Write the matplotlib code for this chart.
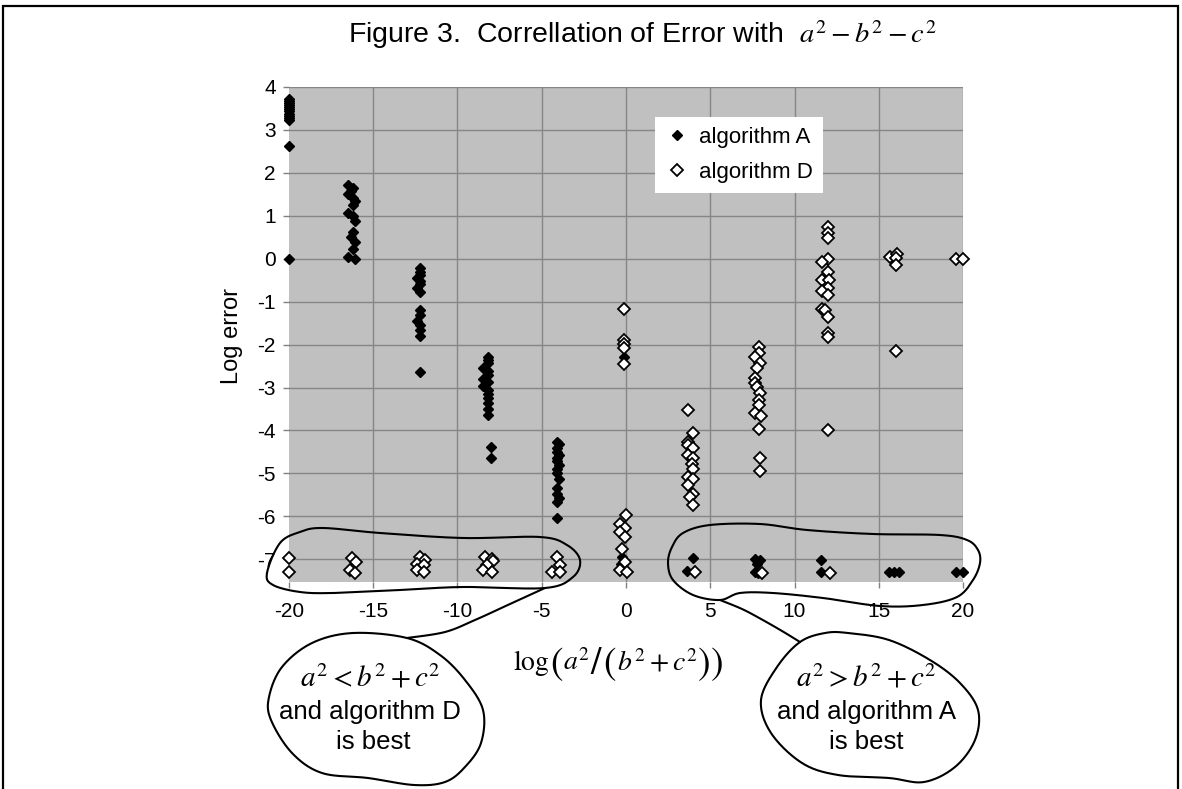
import numpy as np
import matplotlib
matplotlib.use("Agg")
import matplotlib.pyplot as plt
from matplotlib.lines import Line2D
from matplotlib.patches import Rectangle

plt.rcParams['font.family'] = ['Liberation Sans', 'DejaVu Sans']
plt.rcParams['mathtext.fontset'] = 'stix'
plt.rcParams['axes.unicode_minus'] = False

W, H = 1182, 789

# algorithm A (filled diamonds), one line per column of points
a_x = [-20.0] * 13 + \
      [-16.5, -16.2, -16.3, -16.5, -16.2, -16.1, -16.2, -16.5, -16.2, -16.1, -16.2, -16.3, -16.1, -16.2, -16.5, -16.1] + \
      [-12.2, -12.2, -12.2, -12.4, -12.2, -12.2, -12.4, -12.2, -12.2, -12.2, -12.4, -12.2, -12.2, -12.2, -12.2] + \
      [-8.2, -8.2, -8.2, -8.5, -8.2, -8.2, -8.5, -8.2, -8.5, -8.2, -8.2, -8.2, -8.2, -8.2, -8.2, -8.0, -8.0] + \
      [-4.1, -4.0, -4.1, -4.1, -4.0, -4.1, -4.1, -4.0, -4.1, -4.1, -4.0, -4.1, -4.1, -4.0, -4.1, -4.1] + \
      [-0.1, -0.26, -0.3] + \
      [3.96, 3.6] + \
      [7.66, 7.95, 7.76, 7.66, 7.85] + \
      [11.6, 11.6] + \
      [15.6, 15.9, 16.2] + \
      [19.6, 20.0]
a_y = [3.73, 3.68, 3.63, 3.58, 3.53, 3.48, 3.43, 3.38, 3.33, 3.28, 3.22, 2.62, 0.0] + \
      [1.72, 1.65, 1.58, 1.5, 1.42, 1.35, 1.25, 1.07, 1.0, 0.88, 0.62, 0.5, 0.38, 0.22, 0.05, 0.0] + \
      [-0.22, -0.3, -0.38, -0.45, -0.52, -0.6, -0.68, -0.78, -1.2, -1.3, -1.45, -1.55, -1.66, -1.8, -2.65] + \
      [-2.28, -2.35, -2.42, -2.55, -2.62, -2.7, -2.79, -2.88, -2.97, -3.05, -3.14, -3.25, -3.37, -3.5, -3.64, -4.38, -4.65] + \
      [-4.27, -4.32, -4.42, -4.5, -4.58, -4.65, -4.72, -4.8, -4.89, -5.0, -5.12, -5.35, -5.47, -5.58, -5.66, -6.03] + \
      [-2.28, -6.95, -7.1] + \
      [-6.97, -7.28] + \
      [-7.0, -7.02, -7.1, -7.3, -7.32] + \
      [-7.02, -7.3] + \
      [-7.3, -7.3, -7.3] + \
      [-7.3, -7.3]

# algorithm D (open diamonds)
d_x = [-20.0, -20.0] + \
      [-16.28, -16.02, -16.38, -16.1] + \
      [-12.2, -11.9, -12.4, -12.0, -12.4, -12.0] + \
      [-8.37, -7.97, -7.9, -8.27, -8.47, -7.97] + \
      [-4.1, -3.9, -4.4, -3.9] + \
      [-0.12, -0.12, -0.12, -0.12, -0.12, 0.0, -0.36, -0.06, -0.36, -0.06, -0.26, -0.06, -0.36, 0.04] + \
      [3.66, 3.96, 3.7, 3.66, 4.0, 3.66, 4.0, 3.9, 4.0, 3.66, 3.96, 3.7, 3.96, 3.8, 3.96, 4.1] + \
      [7.9, 7.9, 7.66, 7.95, 7.76, 7.66, 7.66, 7.76, 7.95, 7.9, 7.9, 7.66, 8.0, 7.9, 7.95, 7.95, 8.05] + \
      [12.0, 12.0, 12.0, 12.0, 11.61, 12.0, 11.61, 12.05, 12.0, 11.61, 12.0, 11.61, 11.8, 12.0, 12.0, 12.0, 12.0, 12.1] + \
      [15.67, 16.07, 16.0, 16.0, 16.0] + \
      [19.6, 20.0]
d_y = [-6.97, -7.3] + \
      [-6.98, -7.06, -7.26, -7.32] + \
      [-6.95, -7.02, -7.1, -7.13, -7.26, -7.3] + \
      [-6.95, -7.0, -7.05, -7.13, -7.26, -7.3] + \
      [-6.95, -7.13, -7.3, -7.3] + \
      [-1.16, -1.9, -1.99, -2.09, -2.46, -5.97, -6.17, -6.28, -6.36, -6.48, -6.75, -7.06, -7.26, -7.3] + \
      [-3.53, -4.07, -4.27, -4.34, -4.4, -4.58, -4.65, -4.77, -4.9, -5.08, -5.13, -5.27, -5.47, -5.55, -5.74, -7.3] + \
      [-2.05, -2.2, -2.3, -2.43, -2.55, -2.78, -2.9, -2.98, -3.13, -3.29, -3.41, -3.6, -3.67, -3.97, -4.65, -4.94, -7.32] + \
      [0.75, 0.59, 0.48, 0.0, -0.07, -0.3, -0.5, -0.5, -0.69, -0.75, -0.85, -1.16, -1.2, -1.35, -1.73, -1.82, -3.99, -7.32] + \
      [0.05, 0.1, 0.02, -0.15, -2.16] + \
      [0.0, 0.0]

x_ticks = [-20, -15, -10, -5, 0, 5, 10, 15, 20]
y_ticks = [-7, -6, -5, -4, -3, -2, -1, 0, 1, 2, 3, 4]

# hand drawn outlines, in picture pixels
left_loop = [(267, 573), (280, 543), (300, 532), (323, 528), (380, 533), (463, 538), (540, 537),
             (567, 545), (580, 560), (573, 577), (545, 588), (463, 587), (400, 590), (333, 593),
             (300, 592), (273, 585)]
left_tail = [(545, 588), (510, 604), (475, 620), (445, 632), (407, 638)]
left_bubble = [(353, 633), (407, 638), (440, 655), (465, 680), (483, 710), (481, 743), (465, 767),
               (445, 782), (414, 785), (368, 778), (322, 773), (292, 753), (271, 720), (269, 697),
               (282, 667), (312, 643)]
right_loop = [(668, 563), (672, 547), (683, 533), (710, 525), (760, 524), (807, 530), (873, 534),
              (940, 535), (967, 540), (978, 550), (980, 563), (973, 580), (957, 597), (923, 605),
              (880, 606), (823, 598), (773, 593), (740, 593), (720, 600), (693, 595), (673, 580)]
right_tail = [(720, 600), (742, 609), (761, 619), (782, 631), (800, 642)]
right_bubble = [(848, 633), (889, 640), (930, 660), (960, 683), (978, 710), (975, 740), (955, 767),
                (924, 782), (889, 778), (838, 775), (802, 763), (771, 733), (761, 700), (777, 667),
                (800, 642), (825, 633)]

# x label set piece by piece so the brackets can be tall: (text, size, shift down px)
xlabel_parts = [(r'$\log$', 20, 0), (r'$($', 27, 4), (r'$a^2$', 20, 0), (r'$/$', 27, 4),
                (r'$($', 27, 4), (r'$b^2+c^2$', 20, 0), (r'$)$', 27, 4), (r'$)$', 27, 4)]


def catmull(pts, closed=True, n=24):
    P = np.asarray(pts, float)
    if not closed:
        P = np.vstack([P[:1], P, P[-1:]])
    m = len(P)
    segs = []
    rng = range(m) if closed else range(1, m - 2)
    t = np.linspace(0, 1, n, endpoint=False)[:, None]
    for i in rng:
        p0, p1, p2, p3 = P[i - 1], P[i], P[(i + 1) % m], P[(i + 2) % m]
        segs.append(0.5 * (2 * p1 + (-p0 + p2) * t + (2 * p0 - 5 * p1 + 4 * p2 - p3) * t ** 2
                           + (-p0 + 3 * p1 - 3 * p2 + p3) * t ** 3))
    out = np.vstack(segs)
    end = out[:1] if closed else P[-2:-1]
    return np.vstack([out, end])


def draw_outline(fig, pts, closed=True):
    c = catmull(pts, closed)
    fig.add_artist(Line2D(c[:, 0] / W, 1 - c[:, 1] / H, transform=fig.transFigure,
                          color='black', lw=1.5, solid_capstyle='round'))


def place_row(fig, parts, cx, base_y):
    r = fig.canvas.get_renderer()
    items = [(fig.text(0, 0, s, fontsize=fs, ha='left', va='baseline'), dy) for s, fs, dy in parts]
    widths = [t.get_window_extent(r).width for t, _ in items]
    x = cx - sum(widths) / 2
    for (t, dy), w in zip(items, widths):
        t.set_position((x / W, 1 - (base_y + dy) / H))
        x += w


fig = plt.figure(figsize=(W / 100, H / 100), dpi=100)
ax = fig.add_axes([289 / W, 1 - 582 / H, (963 - 289) / W, (582 - 87) / H])
ax.set_facecolor('#c0c0c0')

ax.plot(a_x, a_y, 'D', ms=5.6, color='black', mew=1.0, linestyle='none',
        clip_on=False, zorder=3, label='algorithm A')
ax.plot(d_x, d_y, 'D', ms=6.0, mfc='white', mec='black', mew=1.3, linestyle='none',
        clip_on=False, zorder=4, label='algorithm D')

ax.set_xlim(-20, 20)
ax.set_ylim(-7.53, 4)
ax.set_xticks(x_ticks)
ax.set_yticks(y_ticks)
ax.grid(True, color='#868686', lw=1.0)
ax.set_axisbelow(True)
ax.get_xgridlines()[0].set_visible(False)
for s in ax.spines.values():
    s.set_visible(False)
ax.tick_params(axis='both', direction='out', length=4.5, width=1.0, color='#808080',
               labelsize=15)
ax.tick_params(axis='x', pad=10)
ax.tick_params(axis='y', pad=5)

leg = ax.legend(loc='upper left', bbox_to_anchor=(655 / W, 1 - 117 / H),
                bbox_transform=fig.transFigure, fontsize=16, frameon=True,
                fancybox=False, facecolor='white', edgecolor='none', framealpha=1,
                handlelength=1.05, handletextpad=0.5, labelspacing=0.62, borderpad=0.45,
                borderaxespad=0)

fig.text(642 / W, 1 - 35 / H, r'Figure 3.  Correllation of Error with  $a^2 - b^2 - c^2$',
         ha='center', va='center', fontsize=20.5)
fig.text(232 / W, 1 - 336 / H, 'Log error', rotation=90, ha='center', va='center', fontsize=17)
place_row(fig, xlabel_parts, 618, 670)

for pts, closed in [(left_loop, True), (left_tail, False), (left_bubble, True),
                    (right_loop, True), (right_tail, False), (right_bubble, True)]:
    draw_outline(fig, pts, closed)

fig.text(370 / W, 1 - 678 / H, r'$a^2 < b^2 + c^2$', ha='center', va='center', fontsize=21)
fig.text(370 / W, 1 - 712 / H, 'and algorithm D', ha='center', va='center', fontsize=18.5)
fig.text(373 / W, 1 - 742 / H, 'is best', ha='center', va='center', fontsize=18.5)
fig.text(866 / W, 1 - 678 / H, r'$a^2 > b^2 + c^2$', ha='center', va='center', fontsize=21)
fig.text(866 / W, 1 - 712 / H, 'and algorithm A', ha='center', va='center', fontsize=18.5)
fig.text(866 / W, 1 - 742 / H, 'is best', ha='center', va='center', fontsize=18.5)

fig.add_artist(Rectangle((3 / W, -0.05), (1178 - 3) / W, 1 + 0.05 - 6 / H,
                         transform=fig.transFigure, fill=False, lw=1.6, color='black'))

fig.savefig('out.png', dpi=100)
